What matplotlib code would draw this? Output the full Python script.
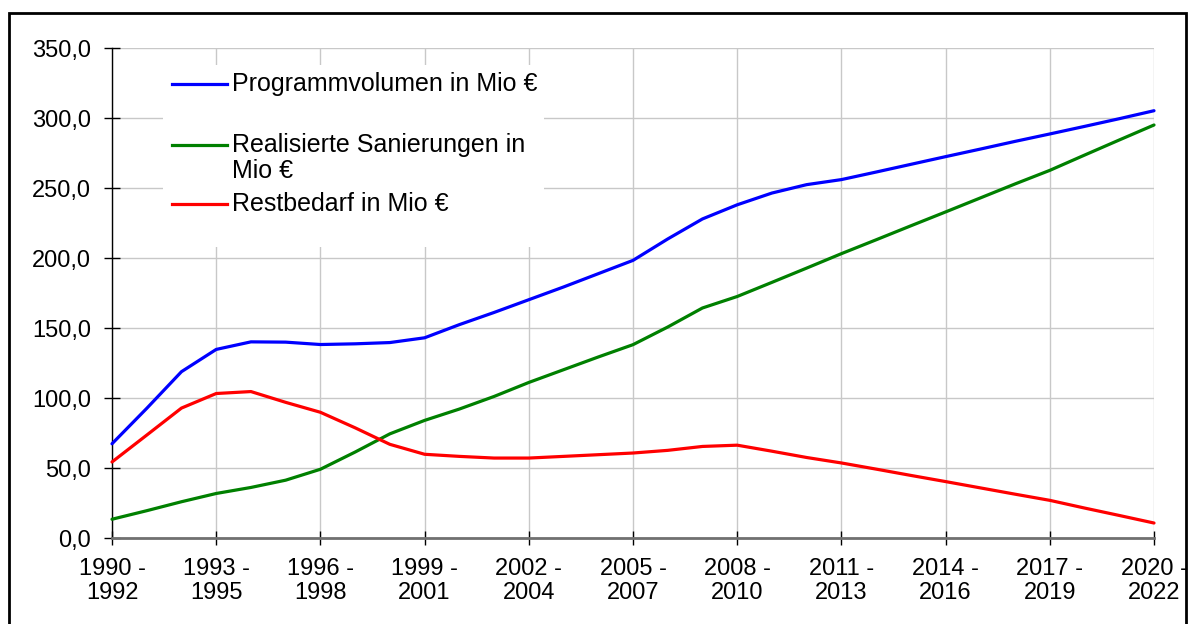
import matplotlib
matplotlib.use("Agg")
import matplotlib.pyplot as plt
from matplotlib.patches import Rectangle
from matplotlib.lines import Line2D
from matplotlib.ticker import FuncFormatter, FixedLocator

plt.rcParams['font.family'] = ['Liberation Sans', 'DejaVu Sans']

periods = [f"{y} -\n{y + 2}" for y in range(1990, 2021)]

programmvolumen = [67.3, 92.6, 118.8, 134.7, 140.1, 139.9, 138.2, 138.7, 139.6, 143.0,
                   152.4, 161.1, 170.2, 179.3, 188.8, 198.3, 213.6, 227.9, 238.0, 246.4,
                   252.4, 256.0, 261.4, 266.9, 272.4, 277.8, 283.3, 288.6, 294.0, 299.5, 305.2]
realisiert = [13.4, 19.5, 25.9, 31.8, 36.1, 41.3, 49.1, 61.4, 74.4, 84.0,
              92.1, 101.1, 111.1, 120.2, 129.3, 138.1, 150.7, 164.3, 172.5, 182.6,
              192.8, 203.1, 213.0, 223.0, 232.9, 242.9, 252.9, 262.6, 273.5, 284.3, 295.0]
restbedarf = [54.3, 73.5, 92.8, 103.2, 104.6, 96.9, 89.8, 78.7, 66.9, 59.8,
              58.3, 57.1, 57.1, 58.3, 59.5, 60.7, 62.6, 65.4, 66.3, 62.0,
              57.5, 53.6, 49.2, 44.7, 40.3, 35.8, 31.3, 26.9, 21.4, 16.1, 10.7]

labels = ["Programmvolumen in Mio €", "Realisierte Sanierungen in", "Mio €", "Restbedarf in Mio €"]
colors = ["#0000FF", "#008000", "#FF0000"]

W, H = 1190, 624
def fx(px): return px / W
def fy(py): return 1 - py / H

fig = plt.figure(figsize=(W / 100, H / 100), dpi=100)
ax = fig.add_axes([fx(112), fy(538), (1154 - 112) / W, (538 - 48) / H])

x = list(range(len(periods)))
for vals, c in zip([programmvolumen, realisiert, restbedarf], colors):
    ax.plot(x, vals, color=c, lw=2.3, solid_capstyle='round', solid_joinstyle='round',
            zorder=3, clip_on=False)

ax.set_xlim(0, len(periods) - 1)
ax.set_ylim(0, 350)
ax.set_yticks(range(0, 351, 50))
ax.yaxis.set_major_formatter(FuncFormatter(lambda v, p: f"{v:.1f}".replace('.', ',')))
tick_idx = list(range(0, len(periods), 3))
ax.xaxis.set_major_locator(FixedLocator(tick_idx))
ax.set_xticklabels([periods[i] for i in tick_idx])

ax.grid(True, color="#c8c8c8", lw=1.0, zorder=0)
ax.set_axisbelow(True)
for s in ['top', 'right']:
    ax.spines[s].set_visible(False)
ax.spines['left'].set_color('black')
ax.spines['left'].set_linewidth(1.0)
ax.spines['bottom'].set_color('#707070')
ax.spines['bottom'].set_linewidth(2.0)

ax.tick_params(axis='y', direction='inout', length=11, width=1, color='black', pad=9.5, labelsize=17)
ax.tick_params(axis='x', direction='inout', length=9.5, width=1, color='black', pad=10, labelsize=17)
for t in ax.get_xticklabels():
    t.set_linespacing(1.1)

# legend (manual, white box without border)
fig.add_artist(Rectangle((fx(163), fy(247)), (544 - 163) / W, (247 - 65) / H,
                         transform=fig.transFigure, facecolor='white', edgecolor='none', zorder=2))
entries = [(84, colors[0], labels[0]), (145, colors[1], labels[1]), (204, colors[2], labels[3])]
for py, c, lab in entries:
    fig.add_artist(Line2D([fx(172), fx(227)], [fy(py), fy(py)], color=c, lw=2.3,
                          transform=fig.transFigure, zorder=3))
    fig.text(fx(232), fy(py), lab, fontsize=18, va='center', ha='left', zorder=4)
fig.text(fx(232), fy(171), labels[2], fontsize=18, va='center', ha='left', zorder=4)

# outer frame
fig.add_artist(Rectangle((fx(9), -0.05), fx(1186) - fx(9), fy(13) + 0.05,
                         transform=fig.transFigure, fill=False, edgecolor='black', lw=2, zorder=5))

fig.savefig("out.png", dpi=100)
